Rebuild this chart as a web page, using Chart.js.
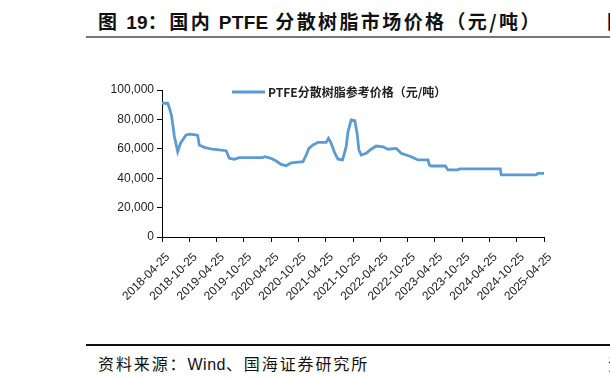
<!DOCTYPE html>
<html>
<head>
<meta charset="utf-8">
<script src="https://cdn.jsdelivr.net/npm/chart.js@4.4.1/dist/chart.umd.min.js"></script>
<style>
  body { margin: 0; width: 610px; height: 379px; overflow: hidden; position: relative; background: #fff; }
  #title { position: absolute; left: 98px; top: 7px; font: bold 19px "Noto Sans CJK SC", sans-serif; letter-spacing: 2.4px; color: #111; white-space: nowrap; }
  #title .lat { font-family: "Liberation Sans", sans-serif; letter-spacing: 0.3px; }
  #source { position: absolute; left: 98px; top: 351px; font: 16px "Noto Sans CJK SC", sans-serif; letter-spacing: 1.9px; color: #111; white-space: nowrap; }
  #source .lat { font-family: "Liberation Sans", sans-serif; letter-spacing: 0.5px; }
  .edge { position: absolute; white-space: nowrap; color: #111; }
  .rule { position: absolute; left: 86px; width: 524px; }
  #chartBox { position: absolute; left: 70px; top: 60px; width: 500px; height: 270px; }
</style>
</head>
<body>
<div id="title">图 <span class="lat">19</span>：国内 <span class="lat">PTFE</span> 分散树脂市场价格（元/吨）</div>
<div class="edge" style="left:607px;top:7px;font:bold 19px 'Noto Sans CJK SC',sans-serif;">图</div>
<div class="rule" style="top:36px;height:2px;background:#777;"></div>
<div id="chartBox"><canvas id="myChart" width="500" height="270"></canvas></div>
<div class="rule" style="top:344px;height:2px;background:#111;"></div>
<div id="source">资料来源：<span class="lat">Wind</span>、国海证券研究所</div>
<div class="edge" style="left:608px;top:351px;font:16px 'Noto Sans CJK SC',sans-serif;">资</div>
<script>
// months counted from 2018-04-25
const months = [0, 1.25, 1.6, 2.1, 2.7, 3.45, 4.1, 5.3, 6.0, 7.4, 7.85, 8.2, 9.3, 11.1, 14.1, 14.8, 15.9, 17.0,
  22.1, 22.6, 24.0, 25.1, 26.2, 27.3, 28.4, 31.0, 31.7, 32.3, 33.2, 34.3, 36.1, 36.6, 37.2, 38.0, 38.7, 39.7,
  40.5, 40.9, 41.6, 42.4, 42.9, 43.3, 43.8, 44.9, 46.0, 47.1, 48.6, 49.7, 51.5, 52.6, 53.7, 54.8, 56.3, 58.5,
  58.8, 59.2, 62.3, 62.9, 65.0, 65.4, 74.4, 74.6, 82.3, 82.6, 84.0];
const prices = [91000, 91000, 88000, 82500, 68900, 58000, 64000, 69400, 70000, 69400, 69000, 62600, 61000, 59700, 58700, 53500, 52900, 54000,
  54000, 54600, 53500, 51700, 49400, 48500, 50500, 51200, 55800, 60300, 62600, 64400, 64400, 67100, 63700, 57000, 52900, 52400,
  61400, 71600, 79600, 79100, 70500, 59200, 55800, 57000, 59700, 61900, 61400, 59700, 60300, 57000, 55800, 54600, 52400, 52400,
  49000, 48300, 48300, 45600, 45600, 46300, 46300, 42200, 42200, 43300, 43300];
const tickLabels = ['2018-04-25', '2018-10-25', '2019-04-25', '2019-10-25', '2020-04-25', '2020-10-25', '2021-04-25',
  '2021-10-25', '2022-04-25', '2022-10-25', '2023-04-25', '2023-10-25', '2024-04-25', '2024-10-25', '2025-04-25'];
const seriesName = 'PTFE分散树脂参考价格（元/吨）';
const lineColor = '#5B9BD5';

// legend sits inside the plot, so draw it by hand
const insideLegend = {
  id: 'insideLegend',
  afterDraw(chart) {
    const c = chart.ctx;
    const ds = chart.data.datasets[0];
    const y = chart.chartArea.top + 2;
    const x = 162;
    c.save();
    c.strokeStyle = ds.borderColor;
    c.lineWidth = ds.borderWidth;
    c.beginPath();
    c.moveTo(x, y);
    c.lineTo(x + 33, y);
    c.stroke();
    c.fillStyle = '#222';
    c.font = 'bold 12px "Noto Sans CJK SC"';
    c.textBaseline = 'middle';
    c.fillText(ds.label, x + 36, y);
    c.restore();
  }
};

const tickFont = { family: 'Liberation Sans', size: 12 };

const ctx = document.getElementById('myChart');
new Chart(ctx, {
  type: 'line',
  data: {
    datasets: [{
      label: seriesName,
      data: months.map((m, i) => ({ x: m, y: prices[i] })),
      borderColor: lineColor,
      backgroundColor: lineColor,
      borderWidth: 2.8,
      pointRadius: 0,
      tension: 0
    }]
  },
  options: {
    responsive: false,
    animation: false,
    devicePixelRatio: 1,
    layout: { padding: { top: 30, right: 26, left: 0, bottom: 0 } },
    plugins: {
      legend: { display: false },
      tooltip: { enabled: false }
    },
    scales: {
      x: {
        type: 'linear',
        min: 0,
        max: 84,
        afterFit: function(scale) { scale.height = 93; },
        ticks: {
          stepSize: 6,
          autoSkip: false,
          maxRotation: 45,
          minRotation: 45,
          padding: 8,
          labelOffset: 6,
          color: '#222',
          font: tickFont,
          callback: function(v) { return tickLabels[v / 6]; }
        },
        grid: { drawOnChartArea: false, drawTicks: true, tickLength: 5, color: '#000' },
        border: { color: '#000', width: 1 }
      },
      y: {
        min: 0,
        max: 100000,
        afterFit: function(scale) { scale.width = 92; },
        ticks: {
          stepSize: 20000,
          color: '#222',
          font: tickFont,
          callback: function(v) { return v.toLocaleString('en-US'); }
        },
        grid: { drawOnChartArea: false, drawTicks: true, tickLength: 5, color: '#000' },
        border: { color: '#000', width: 1 }
      }
    }
  },
  plugins: [insideLegend]
});
</script>
</body>
</html>
